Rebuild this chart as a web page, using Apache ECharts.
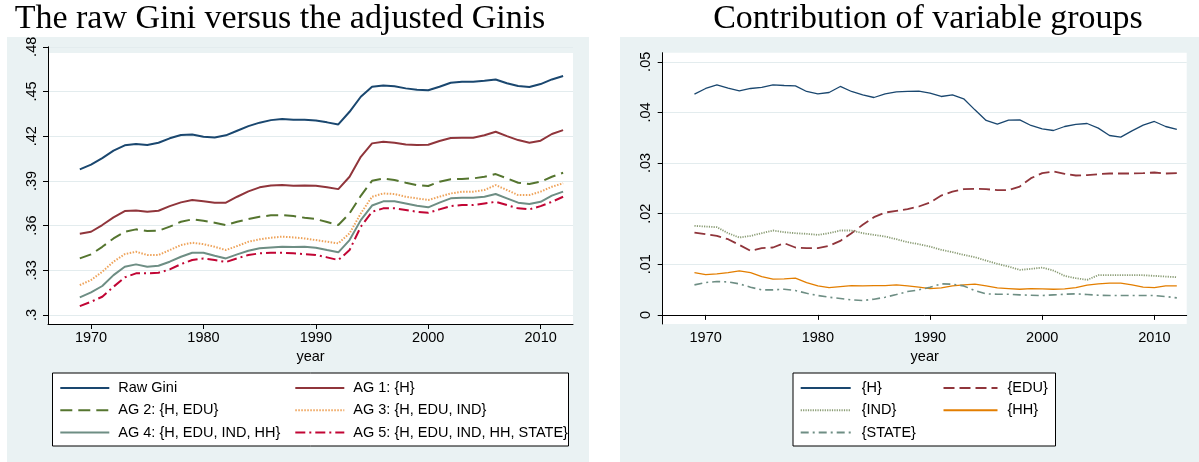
<!DOCTYPE html>
<html>
<head>
<meta charset="utf-8">
<script src="https://cdn.jsdelivr.net/npm/echarts@6/dist/echarts.min.js"></script>
<style>
  html, body { margin: 0; padding: 0; background: #fff; }
  #main { width: 1199px; height: 462px; }
</style>
</head>
<body>
<div id="main"></div>
<script>
// years shown on both panels
const years = [1969, 1970, 1971, 1972, 1973, 1974, 1975, 1976, 1977, 1978,
  1979, 1980, 1981, 1982, 1983, 1984, 1985, 1986, 1987, 1988,
  1989, 1990, 1991, 1992, 1993, 1994, 1995, 1996, 1997, 1998,
  1999, 2000, 2001, 2002, 2003, 2004, 2005, 2006, 2007, 2008,
  2009, 2010, 2011, 2012]

// left panel: raw gini and adjusted ginis
const rawGini = [.3978, .4009, .4053, .4103, .4139, .4147, .4141, .4156, .4186, .4208,
  .4212, .4197, .4192, .4206, .4237, .4268, .4291, .4308, .4315, .4311,
  .4311, .4306, .4293, .4279, .4364, .4465, .4532, .4541, .4535, .4521,
  .4512, .4508, .4532, .4559, .4565, .4565, .4572, .4581, .4555, .4537,
  .4530, .4550, .4581, .4604]
const ag1 = [.3546, .3559, .3604, .3655, .3698, .3702, .3693, .3700, .3731, .3756,
  .3772, .3763, .3754, .3754, .3794, .3830, .3857, .3870, .3872, .3868,
  .3870, .3868, .3857, .3845, .3928, .4062, .4152, .4163, .4156, .4145,
  .4141, .4143, .4168, .4188, .4190, .4190, .4206, .4230, .4201, .4174,
  .4156, .4170, .4215, .4241]
const ag2 = [.3380, .3407, .3458, .3514, .3559, .3575, .3564, .3566, .3593, .3626,
  .3642, .3633, .3620, .3604, .3626, .3644, .3660, .3669, .3671, .3664,
  .3653, .3644, .3624, .3604, .3682, .3800, .3901, .3917, .3906, .3888,
  .3872, .3866, .3895, .3911, .3913, .3917, .3928, .3946, .3917, .3888,
  .3879, .3895, .3928, .3955]
const ag3 = [.3201, .3235, .3291, .3358, .3409, .3425, .3403, .3403, .3436, .3470,
  .3485, .3476, .3458, .3436, .3463, .3492, .3508, .3519, .3526, .3521,
  .3514, .3503, .3492, .3481, .3548, .3682, .3794, .3816, .3812, .3794,
  .3783, .3772, .3794, .3816, .3828, .3828, .3839, .3872, .3839, .3805,
  .3805, .3828, .3861, .3884]
const ag4 = [.3119, .3152, .3195, .3268, .3324, .3340, .3324, .3331, .3358, .3391,
  .3418, .3418, .3398, .3380, .3407, .3432, .3448, .3454, .3458, .3456,
  .3458, .3452, .3436, .3421, .3503, .3637, .3735, .3763, .3763, .3749,
  .3733, .3723, .3754, .3783, .3787, .3787, .3794, .3812, .3783, .3754,
  .3745, .3760, .3801, .3828]
const ag5 = [.3060, .3089, .3123, .3190, .3253, .3280, .3280, .3284, .3306, .3342,
  .3369, .3380, .3369, .3356, .3380, .3403, .3414, .3418, .3418, .3414,
  .3409, .3403, .3387, .3369, .3436, .3593, .3693, .3716, .3716, .3705,
  .3693, .3686, .3709, .3731, .3738, .3738, .3749, .3760, .3738, .3716,
  .3709, .3731, .3760, .3794]

// right panel: contribution of variable groups
const contH = [.04361, .04473, .04545, .04480, .04427, .04473, .04493, .04545, .04532, .04526,
  .04414, .04368, .04394, .04513, .04414, .04348, .04295, .04368, .04407, .04414,
  .04420, .04381, .04315, .04348, .04269, .04051, .03841, .03768, .03847, .03854,
  .03742, .03676, .03643, .03722, .03762, .03781, .03689, .03544, .03511, .03636,
  .03748, .03821, .03722, .03663]
const contEdu = [.01627, .01594, .01561, .01495, .01383, .01265, .01318, .01331, .01416, .01331,
  .01318, .01318, .01364, .01462, .01614, .01779, .01930, .02022, .02055, .02088,
  .02141, .02220, .02358, .02437, .02484, .02490, .02484, .02464, .02464, .02536,
  .02701, .02800, .02833, .02787, .02754, .02760, .02780, .02793, .02793, .02793,
  .02800, .02813, .02793, .02800]
const contInd = [.01759, .01746, .01733, .01614, .01528, .01561, .01614, .01667, .01634, .01614,
  .01601, .01581, .01614, .01667, .01667, .01614, .01581, .01548, .01495, .01436,
  .01397, .01350, .01285, .01239, .01186, .01140, .01073, .01008, .00955, .00889,
  .00909, .00935, .00876, .00771, .00725, .00692, .00784, .00784, .00784, .00784,
  .00784, .00771, .00757, .00745]
const contHh = [.00836, .00797, .00810, .00836, .00870, .00836, .00758, .00705, .00711, .00725,
  .00639, .00573, .00540, .00560, .00580, .00573, .00580, .00580, .00593, .00573,
  .00547, .00520, .00534, .00573, .00593, .00606, .00573, .00534, .00520, .00507,
  .00520, .00514, .00507, .00514, .00540, .00586, .00613, .00626, .00626, .00593,
  .00547, .00540, .00573, .00573]
const contState = [.00593, .00639, .00659, .00652, .00613, .00547, .00494, .00494, .00507, .00481,
  .00428, .00382, .00349, .00323, .00296, .00283, .00310, .00349, .00402, .00461,
  .00494, .00547, .00613, .00606, .00573, .00481, .00415, .00408, .00408, .00395,
  .00389, .00382, .00395, .00408, .00415, .00402, .00389, .00382, .00382, .00382,
  .00382, .00382, .00362, .00336]

const xTicks = [1970, 1980, 1990, 2000, 2010]
const yTicksLeft = [.3, .33, .36, .39, .42, .45, .48]
const yTicksRight = [0, .01, .02, .03, .04, .05]

const chart = echarts.init(document.getElementById('main'))

const stataBg = '#eaf2f3'
const gridColor = '#e3ecee'
const labelFont = { fontFamily: 'Liberation Sans', fontSize: 14.5, color: '#000' }

// stata style number: .3 instead of 0.3
function fmt(v) {
  if (v === 0) return '0'
  return String(+v.toFixed(3)).replace(/^0/, '')
}

function pairs(arr) {
  return arr.map((v, i) => [years[i], v])
}

function line(name, data, color, width, type, idx) {
  return {
    name: name,
    type: 'line',
    xAxisIndex: idx,
    yAxisIndex: idx,
    data: pairs(data),
    symbol: 'none',
    showSymbol: false,
    smooth: false,
    lineStyle: { color: color, width: width, type: type },
    itemStyle: { color: color }
  }
}

function xAxis(idx) {
  return {
    type: 'value',
    gridIndex: idx,
    min: 1966.17,
    max: 2012.88,
    name: 'year',
    nameLocation: 'middle',
    nameGap: 22,
    nameTextStyle: labelFont,
    axisLine: { show: true, lineStyle: { color: '#000', width: 1 } },
    axisTick: { show: true, length: 5, customValues: xTicks, lineStyle: { color: '#000' } },
    axisLabel: Object.assign({ customValues: xTicks, margin: 6, formatter: v => String(v) }, labelFont),
    splitLine: { show: false }
  }
}

function yAxis(idx, min, max, ticks) {
  return {
    type: 'value',
    gridIndex: idx,
    min: min,
    max: max,
    axisLine: { show: true, lineStyle: { color: '#000', width: 1 } },
    axisTick: { show: true, length: 5, customValues: ticks, lineStyle: { color: '#000' } },
    axisLabel: Object.assign({ customValues: ticks, rotate: 90, margin: 9, formatter: fmt }, labelFont),
    splitLine: { show: true, lineStyle: { color: gridColor, width: 1.2 } }
  }
}

function legend(names, left, symW, gap) {
  return {
    orient: 'vertical',
    left: left,
    top: 380,
    padding: 0,
    itemWidth: symW,
    itemHeight: 16,
    itemGap: 6.3,
    selectedMode: false,
    data: names,
    // only the line sample, no marker dot
    itemStyle: { opacity: 0 },
    textStyle: Object.assign({ lineHeight: 16, padding: [0, 0, 0, gap] }, labelFont)
  }
}

const option = {
  animation: false,
  backgroundColor: '#fff',
  graphic: [
    { type: 'rect', z: -20, shape: { x: 7, y: 37, width: 582, height: 425 }, style: { fill: stataBg } },
    { type: 'rect', z: -20, shape: { x: 620, y: 37, width: 579, height: 425 }, style: { fill: stataBg } },
    { type: 'rect', z: -19, shape: { x: 48, y: 53, width: 525, height: 271 }, style: { fill: '#fff' } },
    { type: 'rect', z: -19, shape: { x: 662.7, y: 52.7, width: 524, height: 271.3 }, style: { fill: '#fff' } },
    { type: 'rect', z: -18, shape: { x: 52.5, y: 373, width: 516, height: 73 }, style: { fill: '#fff', stroke: '#000', lineWidth: 1 } },
    { type: 'rect', z: -18, shape: { x: 793, y: 373, width: 262.5, height: 73 }, style: { fill: '#fff', stroke: '#000', lineWidth: 1 } },
    { type: 'text', x: 280, y: 19, style: { text: 'The raw Gini versus the adjusted Ginis', font: '34px "Liberation Serif"', fill: '#000', align: 'center', verticalAlign: 'middle' } },
    { type: 'text', x: 928, y: 19, style: { text: 'Contribution of variable groups', font: '34px "Liberation Serif"', fill: '#000', align: 'center', verticalAlign: 'middle' } }
  ],
  grid: [
    { left: 48, right: 626, top: 46.8, bottom: 138 },
    { left: 662.7, right: 12.3, top: 52.7, bottom: 138 }
  ],
  xAxis: [xAxis(0), xAxis(1)],
  yAxis: [
    yAxis(0, 0.294, 0.48, yTicksLeft),
    yAxis(1, -0.0018, 0.0518, yTicksRight)
  ],
  legend: [
    legend(['Raw Gini', 'AG 2: {H, EDU}', 'AG 4: {H, EDU, IND, HH}'], 59.3, 49, 4),
    legend(['AG 1: {H}', 'AG 3: {H, EDU, IND}', 'AG 5: {H, EDU, IND, HH, STATE}'], 294.3, 49, 4),
    legend(['{H}', '{IND}', '{STATE}'], 799.7, 50, 6),
    legend(['{EDU}', '{HH}'], 942.5, 54, 5)
  ],
  series: [
    line('Raw Gini', rawGini, '#1a476f', 2, 'solid', 0),
    line('AG 1: {H}', ag1, '#90353b', 2, 'solid', 0),
    line('AG 2: {H, EDU}', ag2, '#55752f', 2, [12, 6], 0),
    line('AG 3: {H, EDU, IND}', ag3, '#eea35a', 2, [1.5, 1.5], 0),
    line('AG 4: {H, EDU, IND, HH}', ag4, '#6e8e84', 2, 'solid', 0),
    line('AG 5: {H, EDU, IND, HH, STATE}', ag5, '#c10534', 2, [10, 4, 2, 4], 0),
    line('{H}', contH, '#1a476f', 1.3, 'solid', 1),
    line('{EDU}', contEdu, '#90353b', 1.8, [11, 5], 1),
    line('{IND}', contInd, '#8a9c74', 1.8, [1.2, 1.2], 1),
    line('{HH}', contHh, '#e37e00', 1.3, 'solid', 1),
    line('{STATE}', contState, '#6e8e84', 1.6, [8, 4, 2, 4], 1)
  ]
}

chart.setOption(option)
</script>
</body>
</html>
